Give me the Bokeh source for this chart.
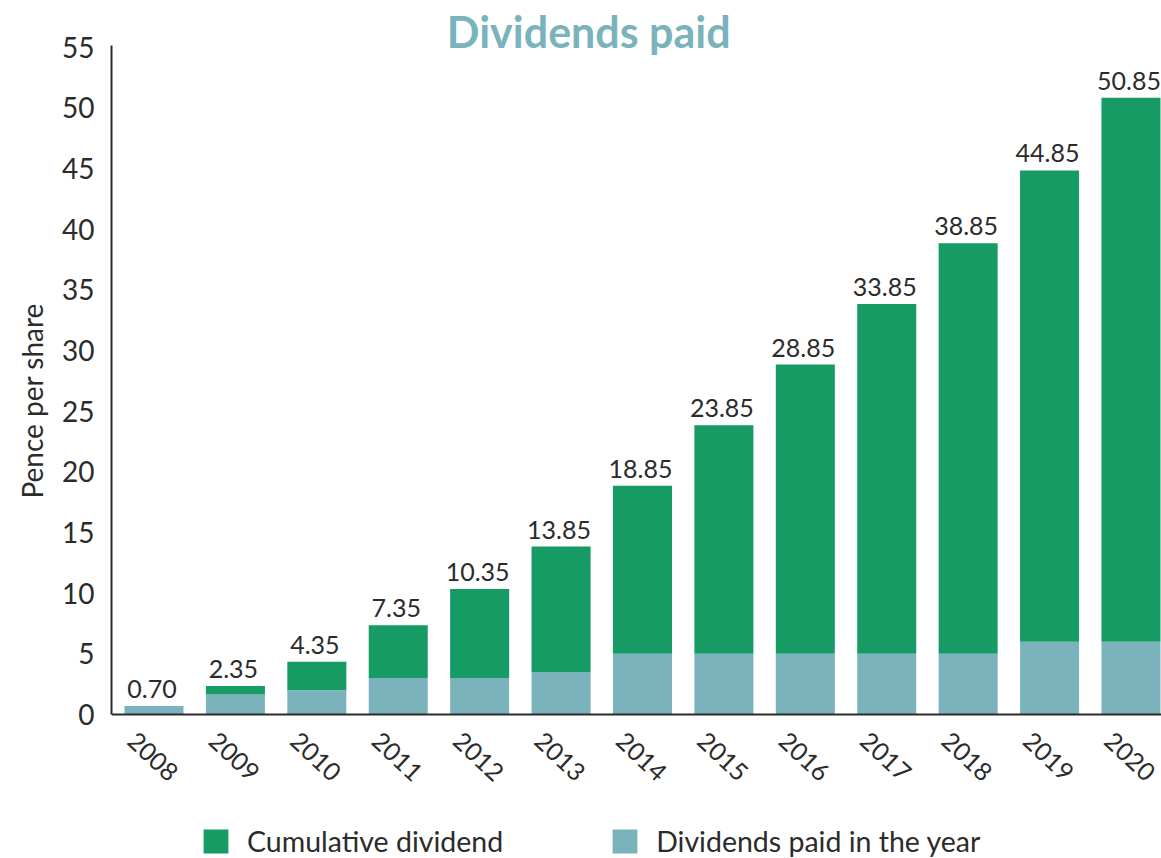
import math
from bokeh.plotting import figure
from bokeh.models import (Range1d, FixedTicker, Label, Legend, LegendItem, ColumnDataSource, Title, Span)
from bokeh.core.properties import value
from bokeh.embed import file_html
from bokeh.resources import INLINE

years = [2008, 2009, 2010, 2011, 2012, 2013, 2014, 2015, 2016, 2017, 2018, 2019, 2020]
year_labels = [str(y) for y in years]
yearly = [0.70, 1.65, 2.00, 3.00, 3.00, 3.50, 5.00, 5.00, 5.00, 5.00, 5.00, 6.00, 6.00]
cumulative = [0.70, 2.35, 4.35, 7.35, 10.35, 13.85, 18.85, 23.85, 28.85, 33.85, 38.85, 44.85, 50.85]
value_labels = [f"{v:.2f}" for v in cumulative]
y_ticks = [0, 5, 10, 15, 20, 25, 30, 35, 40, 45, 50, 55]

GREEN = "#169B65"
TEAL = "#7BB3BC"
DARK = "#2b2b2b"
FONT = "Lato"

src = ColumnDataSource(dict(x=years, yearly=yearly, cum=cumulative, lab=value_labels,
                            ylab=year_labels, zero=[0] * len(years)))

p = figure(width=1161, height=858, output_backend="svg", toolbar_location=None,
           x_range=Range1d(2007.478, 2020.375), y_range=Range1d(-11.871, 58.862),
           min_border_left=111, min_border_right=0, min_border_top=0, min_border_bottom=0)
p.outline_line_color = None
p.grid.grid_line_color = None
p.xaxis.visible = False

teal = p.vbar(x="x", width=0.725, bottom=0, top="yearly", source=src, fill_color=TEAL, line_color=None)
green = p.vbar(x="x", width=0.725, bottom="yearly", top="cum", source=src, fill_color=GREEN, line_color=None)

# value labels above bars
p.text(x="x", y="cum", text="lab", source=src, text_align="center", text_baseline="bottom",
       x_offset=-2, y_offset=-8, text_font=value(FONT), text_font_size="25px", text_color=DARK)

# x category labels (rotated)
p.text(x="x", y="zero", text="ylab", source=src, angle=-0.75, text_align="center", text_baseline="middle",
       x_offset=-1, y_offset=42, text_font=value(FONT), text_font_size="25px", text_color=DARK)

# baseline (x axis line)
p.add_layout(Span(location=0, dimension="width", line_color=DARK, line_width=2))

ya = p.yaxis[0]
ya.ticker = FixedTicker(ticks=y_ticks)
ya.bounds = (0, 55.15)
ya.major_tick_line_color = None
ya.major_tick_out = 0
ya.minor_tick_line_color = None
ya.axis_line_color = DARK
ya.axis_line_width = 2
ya.major_label_text_font = FONT
ya.major_label_text_font_size = "28px"
ya.major_label_text_color = DARK
ya.major_label_standoff = 17

p.add_layout(Label(x=2013.34, y=56.3, text="Dividends paid", text_font=FONT, text_font_size="43px",
                   text_font_style="bold", text_color=TEAL, text_align="center", text_baseline="middle"))

p.add_layout(Title(text="Pence per share", align="left", offset=360, text_font=FONT,
                   text_font_size="28px", text_font_style="normal", text_color=DARK, standoff=21), "left")

legend = Legend(items=[LegendItem(label="Cumulative dividend", renderers=[green]),
                       LegendItem(label="Dividends paid in the year", renderers=[teal])],
                orientation="horizontal", location=(89, 0), glyph_width=31, glyph_height=30,
                label_standoff=16, spacing=106, padding=0, margin=0,
                border_line_alpha=0, background_fill_alpha=0,
                label_text_font=FONT, label_text_font_size="28.5px", label_text_color=DARK)
p.add_layout(legend)

open("out.html", "w").write(file_html(p, INLINE))
